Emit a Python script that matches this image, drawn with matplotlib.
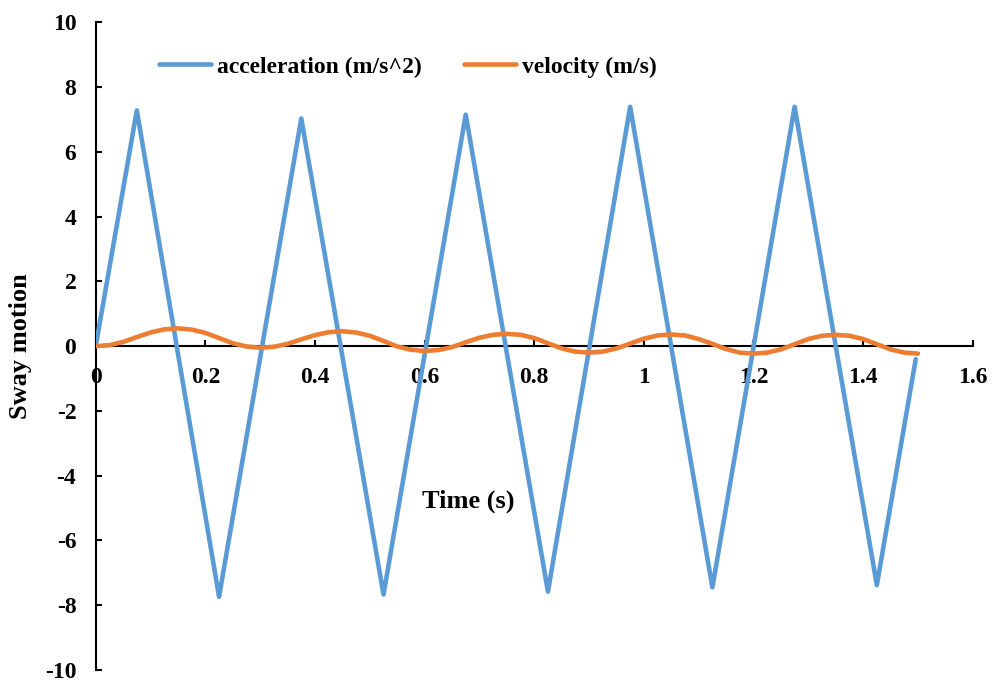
import matplotlib
matplotlib.use("Agg")
import matplotlib.pyplot as plt

plt.rcParams["font.family"] = ["Liberation Serif", "DejaVu Serif"]
plt.rcParams["font.weight"] = "bold"
plt.rcParams["axes.unicode_minus"] = False

# Acceleration: vertices of the sway acceleration signal (s, m/s^2)
accel_time = [0.0, 0.075, 0.225, 0.375, 0.525, 0.675, 0.825, 0.975, 1.125, 1.275, 1.425, 1.496]
accel_values = [0.0, 7.28, -7.74, 7.03, -7.67, 7.15, -7.58, 7.39, -7.45, 7.39, -7.38, -0.40]

# Velocity sampled every 0.025 s (m/s)
vel_time = [round(0.025 * i, 3) for i in range(61)]
vel_values = [
    0.00, 0.03, 0.13, 0.28, 0.42, 0.52,
    0.55, 0.51, 0.41, 0.25, 0.09, -0.01,
    -0.05, -0.02, 0.07, 0.21, 0.34, 0.43,
    0.46, 0.42, 0.32, 0.16, -0.01, -0.11,
    -0.15, -0.12, -0.03, 0.12, 0.26, 0.35,
    0.38, 0.35, 0.25, 0.09, -0.07, -0.17,
    -0.20, -0.17, -0.07, 0.08, 0.23, 0.33,
    0.36, 0.33, 0.22, 0.07, -0.09, -0.20,
    -0.23, -0.20, -0.10, 0.06, 0.22, 0.32,
    0.35, 0.32, 0.22, 0.06, -0.10, -0.20,
    -0.23,
]

x_ticks = [0, 0.2, 0.4, 0.6, 0.8, 1.0, 1.2, 1.4, 1.6]
x_tick_labels = ["0", "0.2", "0.4", "0.6", "0.8", "1", "1.2", "1.4", "1.6"]
y_ticks = [-10, -8, -6, -4, -2, 0, 2, 4, 6, 8, 10]

BLUE = "#5B9BD5"
ORANGE = "#ED7D31"
FS = 17
TITLE_FS = 19

fig = plt.figure(figsize=(9.92, 6.82), dpi=100)
ax = fig.add_axes([0.0965, 0.0176, 0.8841, 0.9497])

ax.plot(accel_time, accel_values, color=BLUE, lw=3.3, solid_joinstyle="round",
        solid_capstyle="round", label="acceleration (m/s^2)", zorder=3)
ax.plot(vel_time, vel_values, color=ORANGE, lw=3.3, solid_joinstyle="round",
        solid_capstyle="round", label="velocity (m/s)", zorder=4)

ax.set_xlim(0, 1.6)
ax.set_ylim(-10, 10)

for side in ("top", "right"):
    ax.spines[side].set_visible(False)
ax.spines["bottom"].set_position(("data", 0))
ax.spines["left"].set_linewidth(1.5)
ax.spines["bottom"].set_linewidth(1.5)
ax.spines["bottom"].set_zorder(2)

ax.set_xticks(x_ticks)
ax.set_xticklabels(x_tick_labels)
ax.set_yticks(y_ticks)
ax.set_yticklabels([str(v) for v in y_ticks])
ax.tick_params(axis="both", direction="in", length=4.3, width=1.5,
               labelsize=FS, colors="black")
ax.tick_params(axis="x", pad=15)
ax.tick_params(axis="y", pad=14)
for lbl in ax.get_xticklabels() + ax.get_yticklabels():
    lbl.set_fontweight("bold")

ax.text(0.679, -4.8, "Time (s)", fontsize=TITLE_FS, fontweight="bold",
        ha="center", va="center")
fig.text(21 / 992, 1 - 346 / 682, "Sway motion", fontsize=TITLE_FS, fontweight="bold",
         rotation=90, ha="center", va="center")

leg = ax.legend(loc="center", bbox_to_anchor=(0.356, 0.931), ncol=2, frameon=False,
                prop={"size": FS, "weight": "bold"}, handlelength=2.2,
                handletextpad=0.25, columnspacing=1.8)

fig.savefig("out.png", dpi=100)
